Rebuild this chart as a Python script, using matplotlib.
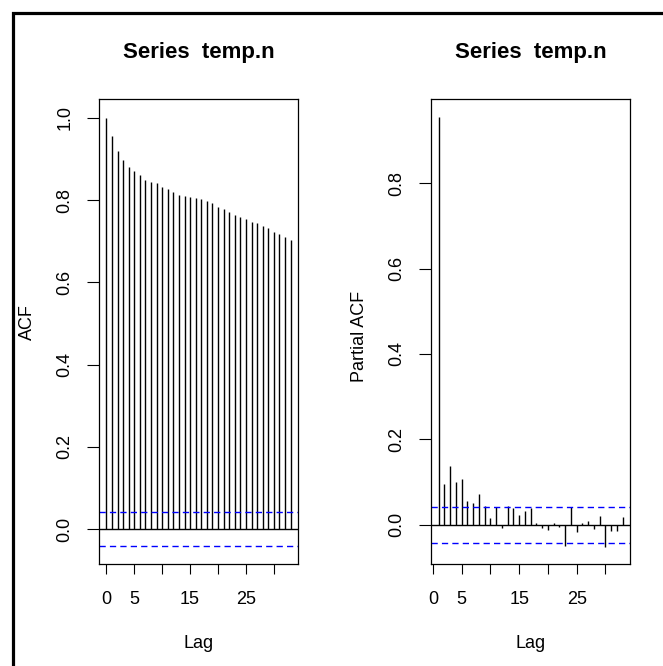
import matplotlib
matplotlib.use("Agg")
import matplotlib.pyplot as plt
from matplotlib.lines import Line2D

plt.rcParams['font.family'] = ['Liberation Sans', 'DejaVu Sans']

# ---- data ----
acf_lags = list(range(0, 34))
acf_vals = [1.000, 0.955, 0.920, 0.897, 0.880, 0.871, 0.862, 0.850, 0.845, 0.841,
            0.833, 0.827, 0.819, 0.813, 0.810, 0.807, 0.804, 0.802, 0.799, 0.793,
            0.784, 0.779, 0.772, 0.763, 0.758, 0.754, 0.746, 0.744, 0.738, 0.732,
            0.723, 0.717, 0.710, 0.703]
pacf_lags = list(range(1, 34))
pacf_vals = [0.955, 0.095, 0.137, 0.100, 0.106, 0.056, 0.050, 0.073, 0.045, 0.016,
             0.041, -0.008, 0.045, 0.038, 0.023, 0.031, 0.040, 0.004, -0.008, -0.012,
             0.003, -0.005, -0.050, 0.041, -0.016, 0.003, 0.009, -0.011, 0.020, -0.053,
             -0.015, -0.015, 0.017]
clim = 0.042
title = "Series  temp.n"
xticks = [0, 5, 10, 15, 20, 25, 30]
xticklabels = ["0", "5", "", "15", "", "25", ""]
acf_yticks = [0.0, 0.2, 0.4, 0.6, 0.8, 1.0]
pacf_yticks = [0.0, 0.2, 0.4, 0.6, 0.8]

W, H = 663, 666
fig = plt.figure(figsize=(W / 100, H / 100), dpi=100)

def px_axes(x0, x1, y0, y1):
    return fig.add_axes([x0 / W, 1 - y1 / H, (x1 - x0) / W, (y1 - y0) / H])

ax1 = px_axes(99, 298, 99, 564)
ax2 = px_axes(431.3, 630, 99, 564)

def style(ax, lags, vals, yticks, ylim, xlim, ylabel, ylab_y):
    ax.vlines(lags, 0, vals, colors="black", linewidth=1.0)
    ax.axhline(0, color="black", linewidth=1.0)
    ax.axhline(clim, color="blue", linewidth=1.0, linestyle=(0, (4.5, 3.0)))
    ax.axhline(-clim, color="blue", linewidth=1.0, linestyle=(0, (4.5, 3.0)))
    ax.set_xlim(*xlim)
    ax.set_ylim(*ylim)
    ax.set_xticks(xticks)
    ax.set_xticklabels(xticklabels)
    ax.set_yticks(yticks)
    ax.set_yticklabels([f"{v:.1f}" for v in yticks], rotation=90, va="center")
    ax.tick_params(axis="x", length=7.2, width=0.8, pad=12, labelsize=13, colors="black")
    ax.tick_params(axis="y", length=8.5, width=0.8, pad=10, labelsize=13, colors="black")
    for s in ax.spines.values():
        s.set_linewidth(0.9)
        s.set_color("black")
    ax.set_xlabel("Lag", fontsize=13)
    ax.xaxis.set_label_coords(0.5, -0.1527)
    ax.xaxis.label.set_va("top")
    ax.set_ylabel(ylabel, fontsize=13)
    ax.yaxis.set_label_coords(-0.36, ylab_y)
    ax.yaxis.label.set_va("center")
    ax.text(0.5, 1.0875, title, transform=ax.transAxes, ha="center", va="baseline",
            fontsize=16, fontweight="bold")

style(ax1, acf_lags, acf_vals, acf_yticks, (-0.085, 1.046), (-1.32, 34.32), "ACF", 0.52)
style(ax2, pacf_lags, pacf_vals, pacf_yticks, (-0.092, 0.997), (-0.28, 34.28), "Partial ACF", 0.49)

# outer border (left and top edges)
bx = 12.5 / W
by = 1 - 12.8 / H
fig.add_artist(Line2D([bx, bx, 1.0], [0.0, by, by], transform=fig.transFigure,
                      color="black", linewidth=2.3, solid_joinstyle="miter"))

fig.savefig("out.png", dpi=100)
